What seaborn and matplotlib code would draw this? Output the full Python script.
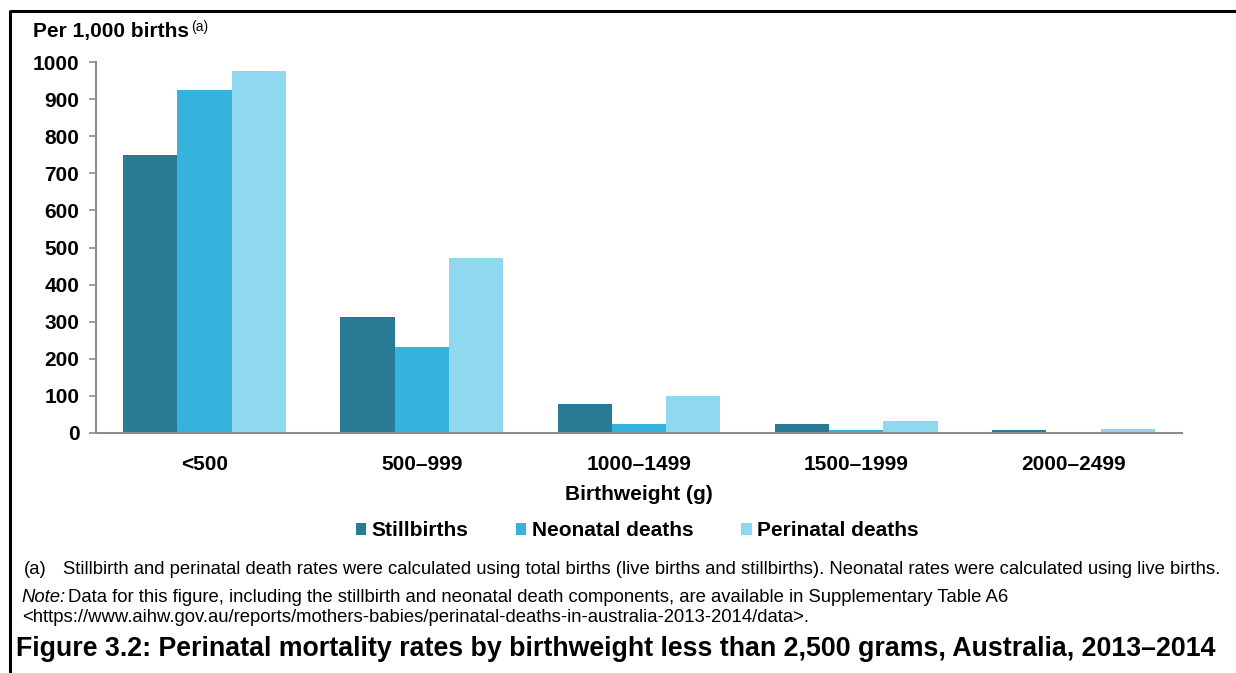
import matplotlib
matplotlib.use("Agg")
import matplotlib.pyplot as plt
import seaborn as sns
import pandas as pd
from matplotlib.lines import Line2D
from matplotlib.patches import Patch

categories = ["<500", "500–999", "1000–1499", "1500–1999", "2000–2499"]
stillbirths = [750, 313, 77, 23, 7]
neonatal = [924, 231, 23, 7, 3]
perinatal = [975, 471, 100, 33, 10]
series = ["Stillbirths", "Neonatal deaths", "Perinatal deaths"]
colors = ["#297B95", "#35B3DC", "#8FD8F0"]
yticks = [0, 100, 200, 300, 400, 500, 600, 700, 800, 900, 1000]

rows = []
for name, vals in zip(series, [stillbirths, neonatal, perinatal]):
    for c, v in zip(categories, vals):
        rows.append({"Birthweight": c, "Series": name, "Rate": v})
df = pd.DataFrame(rows)

sns.set_style("white")
plt.rcParams["font.family"] = ["Liberation Sans", "DejaVu Sans"]
plt.rcParams["text.color"] = "black"
plt.rcParams["xtick.color"] = "black"
plt.rcParams["ytick.color"] = "black"
plt.rcParams["axes.labelcolor"] = "black"

fig = plt.figure(figsize=(12.36, 6.73), dpi=100)
W, H = 1236, 673
ax = fig.add_axes([96 / W, 1 - 433 / H, (1182 - 96) / W, (433 - 62) / H])

sns.barplot(data=df, x="Birthweight", y="Rate", hue="Series", order=categories,
            hue_order=series, palette=colors, width=0.75, ax=ax,
            linewidth=0, errorbar=None, legend=False, saturation=1)

ax.set_ylim(0, 1000)
ax.set_xlim(-0.5, 4.5)
ax.set_yticks(yticks)
ax.set_yticklabels([str(t) for t in yticks], fontsize=15, fontweight="bold")
ax.set_xticks(range(len(categories)))
ax.set_xticklabels(categories, fontsize=15, fontweight="bold")
ax.set_xticks([i - 0.5 for i in range(len(categories) + 1)], minor=True)
ax.tick_params(axis="x", which="major", length=0, pad=16, labelcolor="black")
ax.tick_params(axis="x", which="minor", length=5, width=1.5, color="#8c8c8c", direction="out")
ax.tick_params(axis="y", which="major", length=5, width=1.2, color="#8c8c8c", direction="out",
               pad=7, left=True, labelcolor="black")
for s in ["top", "right"]:
    ax.spines[s].set_visible(False)
for s in ["left", "bottom"]:
    ax.spines[s].set_color("#8c8c8c")
    ax.spines[s].set_linewidth(1.5)
ax.set_ylabel("")
ax.set_xlabel("Birthweight (g)", fontsize=15, fontweight="bold", labelpad=8, color="black")

fig.text(33 / W, 1 - 32 / H, "Per 1,000 births", fontsize=15, fontweight="bold", va="center", ha="left")
fig.text(191 / W, 1 - 27 / H, "(a)", fontsize=10, va="center", ha="left")

handles = [Patch(facecolor=c, edgecolor="none", label=s) for c, s in zip(colors, series)]
leg = fig.legend(handles=handles, loc="center", bbox_to_anchor=(637 / W, 1 - 531 / H), ncol=3,
                 frameon=False, prop={"weight": "bold", "size": 15}, handlelength=0.5,
                 handleheight=0.5, handletextpad=0.25, columnspacing=2.3)

fs = 13.35
fig.text(24 / W, 1 - 569 / H, "(a)", fontsize=fs, va="center", ha="left")
fig.text(63 / W, 1 - 569 / H,
         "Stillbirth and perinatal death rates were calculated using total births (live births and stillbirths). Neonatal rates were calculated using live births.",
         fontsize=fs, va="center", ha="left")
fig.text(21 / W, 1 - 598 / H, "Note:", fontsize=fs, style="italic", va="center", ha="left")
fig.text(68 / W, 1 - 598 / H,
         "Data for this figure, including the stillbirth and neonatal death components, are available in Supplementary Table A6",
         fontsize=fs, va="center", ha="left")
fig.text(22 / W, 1 - 618 / H,
         "<https://www.aihw.gov.au/reports/mothers-babies/perinatal-deaths-in-australia-2013-2014/data>.",
         fontsize=fs, va="center", ha="left")
fig.text(16 / W, 1 - 649 / H,
         "Figure 3.2: Perinatal mortality rates by birthweight less than 2,500 grams, Australia, 2013–2014",
         fontsize=19.25, fontweight="bold", va="center", ha="left")

fig.add_artist(Line2D([9.5 / W, 1.0], [1 - 10.5 / H, 1 - 10.5 / H], color="black", linewidth=2.2,
                      transform=fig.transFigure, solid_capstyle="butt"))
fig.add_artist(Line2D([10 / W, 10 / W], [0, 1 - 9.5 / H], color="black", linewidth=2.2,
                      transform=fig.transFigure, solid_capstyle="butt"))

fig.savefig("out.png", dpi=100)
